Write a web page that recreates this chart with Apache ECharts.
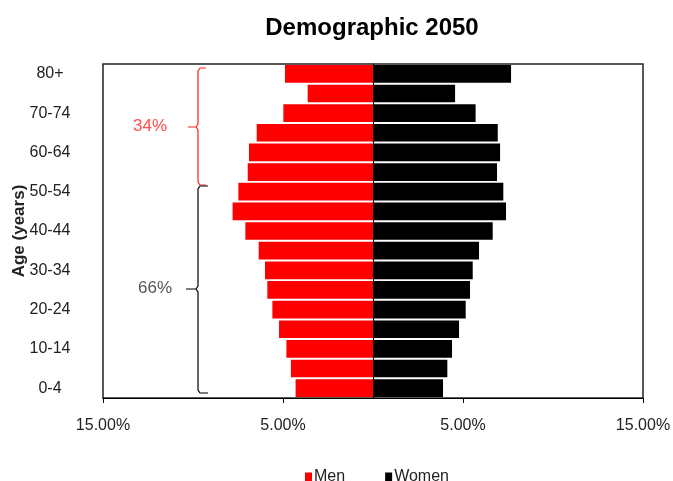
<!DOCTYPE html>
<html>
<head>
    <meta charset="utf-8">
    <script src="https://cdn.jsdelivr.net/npm/echarts@6/dist/echarts.min.js"></script>
</head>
<body style="margin:0;">
<div id="myChart" style="width: 673px; height: 481px;"></div>

<script type="text/javascript">
    var chart = echarts.init(document.getElementById('myChart'));

    var ages = ['0-4', '5-9', '10-14', '15-19', '20-24', '25-29', '30-34', '35-39', '40-44',
        '45-49', '50-54', '55-59', '60-64', '65-69', '70-74', '75-79', '80+'];
    // percent of population (bottom to top)
    var men = [4.30, 4.56, 4.81, 5.22, 5.59, 5.87, 6.00, 6.35, 7.09,
        7.80, 7.48, 6.96, 6.89, 6.46, 4.98, 3.63, 4.89];
    var women = [3.89, 4.13, 4.39, 4.78, 5.15, 5.39, 5.54, 5.89, 6.65,
        7.39, 7.24, 6.89, 7.06, 6.93, 5.70, 4.56, 7.67];
    var xTicks = {min: -15, max: 15, interval: 10};

    var font = 'Arial, "Liberation Sans", sans-serif';

    var option = {
        animation: false,
        title: {
            text: 'Demographic 2050',
            left: 367,
            top: 11,
            textAlign: 'center',
            textStyle: {
                fontFamily: font,
                fontSize: 24,
                fontWeight: 'bold',
                color: '#000',
            },
        },
        legend: {
            data: ['Men', 'Women'],
            left: 300,
            top: 464,
            icon: 'rect',
            itemWidth: 7,
            itemHeight: 9,
            itemGap: 40,
            textStyle: {
                fontFamily: font,
                fontSize: 16,
                color: '#222',
                padding: [0, 0, 0, -3],
            },
        },
        grid: {
            left: 103,
            right: 30,
            top: 64,
            bottom: 83,
            containLabel: false,
            outerBoundsMode: 'none',
            show: true,
            borderColor: '#222',
            borderWidth: 1.5,
        },
        xAxis: {
            type: 'value',
            min: xTicks.min,
            max: xTicks.max,
            interval: xTicks.interval,
            splitLine: {show: false},
            axisLine: {show: true, lineStyle: {color: '#000'}},
            axisTick: {show: true, length: 5, lineStyle: {color: '#000'}},
            axisLabel: {
                margin: 20,
                fontFamily: font,
                fontSize: 16,
                color: '#222',
                formatter: function (v) {
                    return Math.abs(v).toFixed(2) + '%';
                },
            },
        },
        yAxis: {
            type: 'category',
            data: ages,
            name: 'Age (years)',
            nameLocation: 'middle',
            nameRotate: 90,
            nameGap: 75,
            nameMoveOverlap: false,
            nameTextStyle: {
                fontFamily: font,
                fontSize: 17,
                fontWeight: 'bold',
                color: '#222',
            },
            axisLine: {lineStyle: {color: '#000'}},
            axisTick: {show: false},
            axisLabel: {
                interval: 1,
                align: 'center',
                margin: 53,
                fontFamily: font,
                fontSize: 16,
                color: '#222',
            },
        },
        series: [{
            name: 'Men',
            type: 'bar',
            stack: 'pop',
            barCategoryGap: '10%',
            itemStyle: {color: '#ff0000'},
            data: men.map(function (v) { return -v; }),
        }, {
            name: 'Women',
            type: 'bar',
            stack: 'pop',
            barCategoryGap: '10%',
            itemStyle: {color: '#000000'},
            data: women,
        }],
        graphic: [{
            type: 'polyline',
            shape: {
                points: [[206, 68], [200, 68], [198, 71], [198, 124], [196, 127], [188, 127],
                    [196, 127], [198, 130], [198, 182], [200, 185], [206, 185]],
            },
            style: {stroke: '#ff2020', lineWidth: 1.2, fill: null},
            z: 100,
        }, {
            type: 'polyline',
            shape: {
                points: [[208, 186], [200, 186], [198, 189], [198, 286], [196, 289], [186, 289],
                    [196, 289], [198, 292], [198, 390], [200, 393], [208, 393]],
            },
            style: {stroke: '#000', lineWidth: 1.2, fill: null},
            z: 100,
        }, {
            type: 'text',
            left: 133,
            top: 118,
            style: {text: '34%', fill: '#ff4d4d', font: '17px ' + font},
            z: 100,
        }, {
            type: 'text',
            left: 138,
            top: 280,
            style: {text: '66%', fill: '#555', font: '17px ' + font},
            z: 100,
        }],
    };

    chart.setOption(option);
</script>
</body>
</html>
